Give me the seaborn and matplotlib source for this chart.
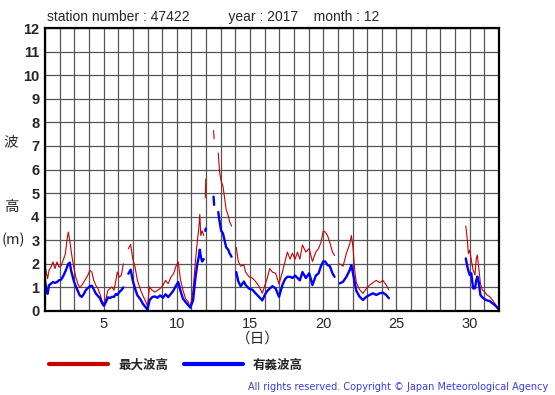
import numpy as np
import pandas as pd
import matplotlib
matplotlib.use('Agg')
import matplotlib.pyplot as plt
from matplotlib.lines import Line2D
import seaborn as sns

sns.set_theme(style='white')
plt.rcParams['font.family'] = ['Liberation Sans', 'Noto Sans CJK JP', 'DejaVu Sans']

# observation time (day of month, fractional) -- nan rows mark missing data
obs_day = [
    1.0, 1.08, 1.18, 1.27, 1.41, 1.54, 1.68, 1.82, 1.95, 2.11, 2.27, 2.39, 2.5, 2.59,
    2.69, 2.78, 2.87, 2.98, 3.1, 3.24, 3.37, 3.51, 3.65, 3.78, 3.92, 4.06, 4.2, 4.33,
    4.47, 4.61, 4.75, 4.88, 5.02, 5.16, 5.3, 5.43, 5.57, 5.71, 5.84, 5.94, 6.07, 6.21,
    6.35, 6.5,
    6.69, 6.85, 6.99, 7.15, 7.31, 7.49, 7.68, 7.84, 8.0, 8.13, 8.32, 8.5, 8.68, 8.86,
    9.05, 9.23, 9.41, 9.6, 9.78, 9.96, 10.1, 10.24, 10.42, 10.6, 10.79, 10.92, 11.11,
    11.27, 11.39, 11.5, 11.57, 11.64, 11.73, 11.84, 11.89,
    11.94, 11.98, 12.2,
    12.51, 12.55, 12.7,
    12.83, 12.92, 13.03, 13.15, 13.26, 13.37, 13.51, 13.6, 13.74, 13.9,
    14.06, 14.2, 14.36, 14.58, 14.7, 14.93, 15.16, 15.38, 15.61, 15.84, 16.02, 16.18,
    16.34, 16.53, 16.75, 16.98, 17.21, 17.39, 17.55, 17.74, 17.89, 18.08, 18.24, 18.4,
    18.58, 18.81, 19.04, 19.26, 19.49, 19.68, 19.84, 20.0, 20.13, 20.29, 20.45, 20.63,
    20.77, 20.95,
    21.12, 21.35, 21.58, 21.81, 21.92, 22.03, 22.15, 22.26, 22.49, 22.71, 22.94, 23.17,
    23.39, 23.62, 23.85, 24.07, 24.3, 24.48, 27.0,
    29.73, 29.77, 29.84, 29.91, 30.0, 30.11, 30.23, 30.36, 30.45, 30.52, 30.61, 30.73,
    30.86, 31.02, 31.18, 31.36, 31.55, 31.7, 31.86, 31.98,
]
nan = np.nan
max_wave = [
    2.0, 1.65, 1.37, 1.72, 1.86, 2.08, 1.8, 2.08, 1.86, 1.93, 2.2, 2.43, 3.0, 3.35,
    3.0, 2.57, 2.2, 1.8, 1.44, 1.16, 0.99, 1.09, 1.23, 1.37, 1.51, 1.72, 1.65, 1.3,
    1.09, 0.95, 0.73, 0.45, 0.31, 0.52, 0.88, 0.95, 1.02, 0.88, 1.3, 1.65, 1.44, 1.51,
    2.0, nan,
    2.64, 2.82, 2.22, 1.86, 1.3, 0.95, 0.66, 0.45, 0.2, 1.02, 0.88, 0.8, 0.88, 0.95,
    1.09, 1.3, 1.16, 1.44, 1.58, 1.93, 2.08, 1.37, 0.88, 0.52, 0.38, 0.14, 0.9,
    2.1, 2.9, 3.5, 4.1, 3.2, 3.4, 3.2, nan,
    4.8, 5.6, nan,
    7.65, 7.3, nan,
    6.7, 5.9, 5.5, 5.3, 4.8, 4.3, 4.05, 3.8, 3.6, nan,
    2.7, 2.1, 1.9, 1.95, 1.65, 1.45, 1.4, 1.25, 1.05, 0.75, 1.1, 1.4,
    1.8, 1.65, 1.6, 1.15, 1.65, 2.1, 2.5, 2.2, 2.45, 2.2, 2.5, 2.2,
    2.8, 2.5, 2.65, 2.1, 2.5, 2.65, 2.9, 3.4, 3.35, 3.2, 2.9, 2.5,
    2.35, nan,
    2.0, 1.9, 2.45, 2.85, 3.2, 2.7, 1.7, 1.2, 0.9, 0.75, 0.95, 1.1,
    1.2, 1.3, 1.2, 1.3, 1.1, 0.9, nan,
    3.6, 3.4, 3.0, 2.44, 2.58, 2.16, 1.74, 1.53, 2.23, 2.37, 1.88, 1.17,
    0.89, 0.82, 0.68, 0.61, 0.47, 0.33, 0.18, 0.07,
]
sig_wave = [
    1.3, 0.95, 0.73, 1.09, 1.16, 1.23, 1.19, 1.23, 1.3, 1.33, 1.51, 1.68, 1.85, 2.0,
    2.05, 1.72, 1.5, 1.25, 1.05, 0.85, 0.66, 0.6, 0.72, 0.88, 0.97, 1.05, 1.07, 0.92,
    0.74, 0.64, 0.55, 0.35, 0.22, 0.38, 0.58, 0.55, 0.6, 0.6, 0.72, 0.68, 0.8, 0.88,
    1.0, nan,
    1.58, 1.75, 1.3, 0.95, 0.66, 0.52, 0.31, 0.18, 0.06, 0.45, 0.59, 0.62, 0.56, 0.66,
    0.56, 0.71, 0.59, 0.73, 0.88, 1.09, 1.23, 0.88, 0.52, 0.38, 0.24, 0.14, 0.45,
    1.4, 1.95, 2.3, 2.6, 2.3, 2.1, 2.2, nan,
    3.4, 3.5, nan,
    4.85, 4.5, nan,
    4.2, 3.8, 3.4, 3.3, 3.0, 2.7, 2.6, 2.45, 2.3, nan,
    1.65, 1.25, 1.05, 1.25, 1.1, 0.95, 0.9, 0.75, 0.6, 0.45, 0.7, 0.85,
    0.95, 1.05, 0.95, 0.6, 1.1, 1.35, 1.45, 1.45, 1.4, 1.5, 1.4, 1.3,
    1.65, 1.4, 1.6, 1.1, 1.5, 1.6, 1.9, 2.1, 2.1, 1.95, 1.9, 1.6,
    1.45, nan,
    1.17, 1.24, 1.45, 1.74, 1.95, 1.6, 1.2, 0.85, 0.6, 0.47, 0.6, 0.68,
    0.75, 0.68, 0.75, 0.78, 0.68, 0.54, nan,
    2.23, 2.1, 1.88, 1.7, 1.53, 1.6, 0.96, 0.96, 1.3, 1.46, 1.24, 0.68,
    0.58, 0.5, 0.45, 0.42, 0.33, 0.26, 0.16, 0.07,
]
x_ticks = [5, 10, 15, 20, 25, 30]
y_ticks = list(range(0, 13))

df = pd.DataFrame({'day': obs_day, 'max': max_wave, 'sig': sig_wave})
df['seg'] = df['max'].isna().cumsum()
df = df.dropna()

fig = plt.figure(figsize=(5.55, 3.95), dpi=100)
ax = fig.add_axes([45 / 555, 84 / 395, 454 / 555, 283 / 395])

sns.lineplot(data=df, x='day', y='max', units='seg', estimator=None,
             color='#cc0000', lw=0.8, ax=ax, legend=False)
sns.lineplot(data=df, x='day', y='sig', units='seg', estimator=None,
             color='#0000ff', lw=1.7, ax=ax, legend=False)

ax.set_xlim(1, 32)
ax.set_ylim(0, 12)
ax.set_xticks(range(1, 33), minor=True)
ax.set_xticks(x_ticks)
ax.set_yticks(y_ticks)
ax.grid(True, which='both', axis='x', color='#555555', lw=0.9)
ax.grid(True, which='major', axis='y', color='#555555', lw=0.9)
ax.tick_params(which='both', length=0)
ax.tick_params(axis='y', pad=4, labelsize=10.5)
ax.tick_params(axis='x', pad=4, labelsize=10.5)
for lab in ax.get_yticklabels():
    lab.set_fontweight('bold')
for sp in ax.spines.values():
    sp.set_color('black')
    sp.set_linewidth(1.6)
ax.set_xlabel('')
ax.set_ylabel('')

fig.text(47 / 555, 1 - 17 / 395,
         'station number : 47422          year : 2017    month : 12',
         fontsize=10, va='center', ha='left')
cjk = ['Noto Sans CJK JP', 'DejaVu Sans']
fig.text(11 / 555, 1 - 142 / 395, '波', family=cjk, fontsize=10.5, ha='center', va='center')
fig.text(11 / 555, 1 - 207 / 395, '高', family=cjk, fontsize=10.5, ha='center', va='center')
fig.text(13 / 555, 1 - 240 / 395, '(m)', family=cjk, fontsize=10.5, ha='center', va='center')
fig.text(258 / 555, 1 - 339 / 395, '（日）', family=cjk, fontsize=10.5, ha='center', va='center')

handles = [Line2D([], [], color='#cc0000', lw=3), Line2D([], [], color='#0000ff', lw=3)]
leg = fig.legend(handles, ['最大波高', '有義波高'], loc='center left',
                 bbox_to_anchor=(38 / 555, 1 - 365 / 395), ncol=2, frameon=False,
                 handlelength=4.7, handletextpad=0.8, columnspacing=1.3,
                 prop={'family': cjk, 'weight': 'bold', 'size': 9})

fig.text(548 / 555, 1 - 387 / 395,
         'All rights reserved. Copyright © Japan Meteorological Agency',
         family='DejaVu Sans', fontsize=7, color='#3a3aee', ha='right', va='center')

fig.savefig('out.png', dpi=100)
